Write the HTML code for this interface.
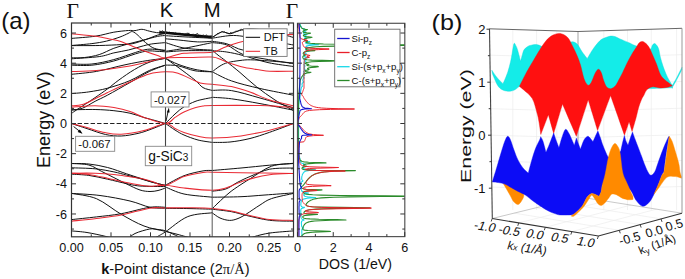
<!DOCTYPE html><html><head><meta charset="utf-8"><style>html,body{margin:0;padding:0;background:#fff;width:685px;height:279px;overflow:hidden}svg{display:block}text{font-family:"Liberation Sans",sans-serif}.sf{font-family:"Liberation Serif",serif}</style></head><body>
<svg width="685" height="279" viewBox="0 0 685 279" fill="#111">
<rect width="685" height="279" fill="#fff"/>
<clipPath id="ca"><rect x="71.5" y="23" width="222" height="213.8"/></clipPath>
<g clip-path="url(#ca)" fill="none" stroke-linejoin="round" stroke-linecap="round">
<line x1="71.5" y1="123.5" x2="293.5" y2="123.5" stroke="#222" stroke-width="1" stroke-dasharray="3.6,2.9"/>
<path d="M71.5,38.4C75.5,38.03 88.45,37.23 95.5,36.2C102.55,35.17 108.32,33.15 113.8,32.2C119.28,31.25 124.87,30.77 128.4,30.5C131.93,30.23 132.75,30.8 135,30.6C137.25,30.4 139.53,29.22 141.9,29.3C144.27,29.38 146.77,30.55 149.2,31.1C151.63,31.65 153.78,32.28 156.5,32.6C159.22,32.92 164,32.93 165.5,33" stroke="#111" stroke-width="1"/>
<path d="M71.5,45.5C74.9,45.18 86.07,44.33 91.9,43.6C97.73,42.87 101.82,42.2 106.5,41.1C111.18,40 116.42,38.27 120,37C123.58,35.73 125.92,34.4 128,33.5C130.08,32.6 130.8,31.27 132.5,31.6C134.2,31.93 136.35,33.95 138.2,35.5C140.05,37.05 141.27,38.92 143.6,40.9C145.93,42.88 149.47,45.93 152.2,47.4C154.93,48.87 157.78,49.23 160,49.7C162.22,50.17 164.58,50.12 165.5,50.2" stroke="#111" stroke-width="1"/>
<path d="M71.5,45.6C76.12,45.58 90.93,45.67 99.2,45.5C107.47,45.33 115.5,44.92 121.1,44.6C126.7,44.28 128.67,44.45 132.8,43.6C136.93,42.75 141.77,40.92 145.9,39.5C150.03,38.08 154.33,36.1 157.6,35.1C160.87,34.1 164.18,33.77 165.5,33.5" stroke="#111" stroke-width="1"/>
<path d="M71.5,57.8C73.68,57.75 79.98,58.03 84.6,57.5C89.22,56.97 94.33,56.13 99.2,54.6C104.07,53.07 108.93,50.08 113.8,48.3C118.67,46.52 123.53,45.25 128.4,43.9C133.27,42.55 138.13,41.45 143,40.2C147.87,38.95 153.85,37.18 157.6,36.4C161.35,35.62 164.18,35.65 165.5,35.5" stroke="#111" stroke-width="1"/>
<path d="M71.5,58.8C76.12,58.43 92.15,57.58 99.2,56.6C106.25,55.62 108.93,54 113.8,52.9C118.67,51.8 123.87,51.07 128.4,50C132.93,48.93 137.17,47.5 141,46.5C144.83,45.5 147.32,44.65 151.4,44C155.48,43.35 163.15,42.83 165.5,42.6" stroke="#111" stroke-width="1"/>
<path d="M71.5,64C74.9,64 84.85,64.73 91.9,64C98.95,63.27 106.5,61.53 113.8,59.6C121.1,57.67 130.1,54.12 135.7,52.4C141.3,50.68 143.85,49.77 147.4,49.3C150.95,48.83 153.98,49.35 157,49.6C160.02,49.85 164.08,50.6 165.5,50.8" stroke="#111" stroke-width="1"/>
<path d="M71.5,65.2C74.9,65.2 84.85,65.9 91.9,65.2C98.95,64.5 106.5,62.9 113.8,61C121.1,59.1 130.1,55.47 135.7,53.8C141.3,52.13 143.85,51.42 147.4,51C150.95,50.58 153.98,51.17 157,51.3C160.02,51.43 164.08,51.72 165.5,51.8" stroke="#111" stroke-width="1"/>
<path d="M71.5,74.3C75.67,73.82 87.58,72.98 96.5,71.4C105.42,69.82 116.45,66.62 125,64.8C133.55,62.98 141.05,61.58 147.8,60.5C154.55,59.42 162.55,58.67 165.5,58.3" stroke="#111" stroke-width="1"/>
<path d="M72,113C72.72,112.52 72.45,112.67 76.3,110.1C80.15,107.53 89.88,101.15 95.1,97.6C100.32,94.05 103.63,91.73 107.6,88.8C111.57,85.87 114.42,83.22 118.9,80C123.38,76.78 129.32,72.5 134.5,69.5C139.68,66.5 144.83,63.87 150,62C155.17,60.13 162.92,58.92 165.5,58.3" stroke="#111" stroke-width="1"/>
<path d="M71.5,93.6C74.38,93.32 82.78,92.8 88.8,91.9C94.82,91 100.73,90.08 107.6,88.2C114.47,86.32 123.05,83.55 130,80.6C136.95,77.65 143.38,73.08 149.3,70.5C155.22,67.92 162.8,66 165.5,65.1" stroke="#111" stroke-width="1"/>
<path d="M72,110C73.75,109.7 78.65,109.65 82.5,108.2C86.35,106.75 90.92,103.48 95.1,101.3C99.28,99.12 101.78,98.23 107.6,95.1C113.42,91.97 123.05,86.43 130,82.5C136.95,78.57 143.38,74.4 149.3,71.5C155.22,68.6 162.8,66.17 165.5,65.1" stroke="#111" stroke-width="1"/>
<path d="M71.5,109.8C75.43,109.75 88.03,109.35 95.1,109.5C102.17,109.65 108.08,110.08 113.9,110.7C119.72,111.32 124.98,112.07 130,113.2C135.02,114.33 139.83,116.28 144,117.5C148.17,118.72 151.42,119.5 155,120.5C158.58,121.5 163.75,123 165.5,123.5" stroke="#111" stroke-width="1"/>
<path d="M71.5,123.5C74.08,124.35 81.32,126.77 87,128.6C92.68,130.43 99.9,133.27 105.6,134.5C111.3,135.73 115.8,136.18 121.2,136C126.6,135.82 133.2,134.47 138,133.4C142.8,132.33 145.42,131.25 150,129.6C154.58,127.95 162.92,124.52 165.5,123.5" stroke="#111" stroke-width="1"/>
<path d="M71.5,163.5C74.38,163.58 82.78,163.33 88.8,164C94.82,164.67 101.32,165.87 107.6,167.5C113.88,169.13 121.1,172.02 126.5,173.8C131.9,175.58 135.75,176.83 140,178.2C144.25,179.57 147.75,180.78 152,182C156.25,183.22 163.25,184.92 165.5,185.5" stroke="#111" stroke-width="1"/>
<path d="M71.5,163.5C74.38,163.75 83.82,163.7 88.8,165C93.78,166.3 97.22,169.2 101.4,171.3C105.58,173.4 109.72,175.5 113.9,177.6C118.08,179.7 122.15,181.83 126.5,183.9C130.85,185.97 136.08,188.73 140,190C143.92,191.27 147,191.42 150,191.5C153,191.58 155.42,191.08 158,190.5C160.58,189.92 164.25,188.42 165.5,188" stroke="#111" stroke-width="1"/>
<path d="M71.5,167.8C75.43,167.97 88.03,168.12 95.1,168.8C102.17,169.48 108.67,170.85 113.9,171.9C119.13,172.95 122.15,173.98 126.5,175.1C130.85,176.22 135.75,177.42 140,178.6C144.25,179.78 147.75,181.05 152,182.2C156.25,183.35 163.25,184.95 165.5,185.5" stroke="#111" stroke-width="1"/>
<path d="M71.5,174.2C74.38,174.4 82.78,174.57 88.8,175.4C94.82,176.23 101.32,177.83 107.6,179.2C113.88,180.57 121.1,182.47 126.5,183.6C131.9,184.73 133.5,185.5 140,186C146.5,186.5 161.25,186.5 165.5,186.6" stroke="#111" stroke-width="1"/>
<path d="M71.5,193.4C76.25,193.75 90.25,194.23 100,195.5C109.75,196.77 121.67,199.03 130,201C138.33,202.97 144.08,206.1 150,207.3C155.92,208.5 162.92,208.05 165.5,208.2" stroke="#111" stroke-width="1"/>
<path d="M71.5,193.4C75.67,194.28 88.22,195.22 96.5,198.7C104.78,202.18 113.28,209.75 121.2,214.3C129.12,218.85 136.62,223.15 144,226C151.38,228.85 159.83,229.98 165.5,231.4C171.17,232.82 173.58,233.32 178,234.5C182.42,235.68 189.67,237.83 192,238.5" stroke="#111" stroke-width="1"/>
<path d="M71.5,219.6C75.67,219.15 88.22,217.88 96.5,216.9C104.78,215.92 112.33,215.3 121.2,213.7C130.07,212.1 142.32,208.37 149.7,207.3C157.08,206.23 162.87,207.3 165.5,207.3" stroke="#111" stroke-width="1"/>
<path d="M71.5,230.9C74.08,231.17 81.25,231.57 87,232.5C92.75,233.43 101.33,235.33 106,236.5C110.67,237.67 113.5,239 115,239.5" stroke="#111" stroke-width="1"/>
<path d="M128,239C129.17,238.08 131.38,235.17 135,233.5C138.62,231.83 145.87,229.67 149.7,229C153.53,228.33 155.37,229.18 158,229.5C160.63,229.82 162.12,229.72 165.5,230.9C168.88,232.08 175.55,235.25 178.3,236.6C181.05,237.95 181.38,238.6 182,239" stroke="#111" stroke-width="1"/>
<path d="M152,240C152.9,239.43 155.15,237.97 157.4,236.6C159.65,235.23 160.43,235.13 165.5,231.8C170.57,228.47 180.02,219.77 187.8,216.6C195.58,213.43 208.13,213.43 212.2,212.8" stroke="#111" stroke-width="1"/>
<path d="M165.5,33C168.75,33.27 177.22,33.85 185,34.6C192.78,35.35 207.67,37.02 212.2,37.5" stroke="#111" stroke-width="1"/>
<path d="M165.5,35.7C168.75,35.9 177.22,36.48 185,36.9C192.78,37.32 207.67,37.98 212.2,38.2" stroke="#111" stroke-width="1"/>
<path d="M165.5,38.8C167.72,39 173.45,39.48 178.8,40C184.15,40.52 192.03,41.68 197.6,41.9C203.17,42.12 209.77,41.4 212.2,41.3" stroke="#111" stroke-width="1"/>
<path d="M165.5,42.6C168.75,43.53 177.22,46.95 185,48.2C192.78,49.45 207.67,49.78 212.2,50.1" stroke="#111" stroke-width="1"/>
<path d="M165.5,51.3C168.75,50.78 177.22,49.65 185,48.2C192.78,46.75 207.67,43.53 212.2,42.6" stroke="#111" stroke-width="1"/>
<path d="M165.5,52C168.75,51.78 177.22,50.92 185,50.7C192.78,50.48 207.67,50.7 212.2,50.7" stroke="#111" stroke-width="1"/>
<path d="M165.5,58.3C167.58,59.3 173.08,62.45 178,64.3C182.92,66.15 189.3,68.15 195,69.4C200.7,70.65 209.33,71.4 212.2,71.8" stroke="#111" stroke-width="1"/>
<path d="M165.5,65.1C167.58,65.22 173.08,64.85 178,65.8C182.92,66.75 189.3,69.8 195,70.8C200.7,71.8 209.33,71.63 212.2,71.8" stroke="#111" stroke-width="1"/>
<path d="M165.5,58.3C167.58,59.78 173.08,63.57 178,67.2C182.92,70.83 190.83,76.7 195,80.1C199.17,83.5 200.13,85.88 203,87.6C205.87,89.32 210.67,89.93 212.2,90.4" stroke="#111" stroke-width="1"/>
<path d="M165.5,123.5C167.08,121.92 171.92,116.78 175,114C178.08,111.22 180.67,108.88 184,106.8C187.33,104.72 191.83,102.75 195,101.5C198.17,100.25 200.13,99.97 203,99.3C205.87,98.63 210.67,97.8 212.2,97.5" stroke="#111" stroke-width="1"/>
<path d="M165.5,123.5C167.08,124.58 171.92,128.08 175,130C178.08,131.92 180.17,133.33 184,135C187.83,136.67 193.3,138.77 198,140C202.7,141.23 209.83,142 212.2,142.4" stroke="#111" stroke-width="1"/>
<path d="M165.5,185.2C168.58,183.62 177.75,178.08 184,175.7C190.25,173.32 198.3,171.77 203,170.9C207.7,170.03 210.67,170.57 212.2,170.5" stroke="#111" stroke-width="1"/>
<path d="M165.5,187C168.58,188.17 176.22,192.3 184,194C191.78,195.7 207.5,196.67 212.2,197.2" stroke="#111" stroke-width="1"/>
<path d="M165.5,208.3C169.58,208.35 182.22,208.45 190,208.6C197.78,208.75 208.5,209.1 212.2,209.2" stroke="#111" stroke-width="1"/>
<path d="M212.2,37.5C213.8,36.57 218.83,32.52 221.8,31.9C224.77,31.28 227.07,34.02 230,33.8C232.93,33.58 236.07,31.4 239.4,30.6C242.73,29.8 244.9,28.93 250,29C255.1,29.07 262.75,29.58 270,31C277.25,32.42 289.58,36.42 293.5,37.5" stroke="#111" stroke-width="1"/>
<path d="M212.2,38.2C215.17,37.77 224.87,35.92 230,35.6C235.13,35.28 237.17,35.57 243,36.3C248.83,37.03 256.58,38.55 265,40C273.42,41.45 288.75,44.17 293.5,45" stroke="#111" stroke-width="1"/>
<path d="M212.2,41.3C214.63,41.72 221.65,42.33 226.8,43.8C231.95,45.27 236.73,49.07 243.1,50.1C249.47,51.13 256.6,50.32 265,50C273.4,49.68 288.75,48.5 293.5,48.2" stroke="#111" stroke-width="1"/>
<path d="M212.2,42.6C214.63,43 221.65,43.02 226.8,45C231.95,46.98 236.73,52.17 243.1,54.5C249.47,56.83 256.6,57.47 265,59C273.4,60.53 288.75,62.92 293.5,63.7" stroke="#111" stroke-width="1"/>
<path d="M212.2,50.7C214.63,50.92 221.65,51.2 226.8,52C231.95,52.8 236.23,53.73 243.1,55.5C249.97,57.27 259.6,60.77 268,62.6C276.4,64.43 289.25,65.85 293.5,66.5" stroke="#111" stroke-width="1"/>
<path d="M212.2,71.8C213.5,70.83 217.42,67.53 220,66C222.58,64.47 224.37,63.52 227.7,62.6C231.03,61.68 236.2,60.97 240,60.5C243.8,60.03 245.5,59.72 250.5,59.8C255.5,59.88 262.83,60.47 270,61C277.17,61.53 289.58,62.67 293.5,63" stroke="#111" stroke-width="1"/>
<path d="M212.2,71.8C215.42,73.32 223.53,78.12 231.5,80.9C239.47,83.68 249.67,86.12 260,88.5C270.33,90.88 287.92,94.08 293.5,95.2" stroke="#111" stroke-width="1"/>
<path d="M212.2,50.1C213.17,50.93 215.73,53.28 218,55.1C220.27,56.92 222.13,58.1 225.8,61C229.47,63.9 234.92,68.23 240,72.5C245.08,76.77 250.47,82.02 256.3,86.6C262.13,91.18 268.8,96 275,100C281.2,104 290.42,108.83 293.5,110.6" stroke="#111" stroke-width="1"/>
<path d="M212.2,90.4C215.42,90.43 223.53,89.33 231.5,90.6C239.47,91.87 249.67,95.13 260,98C270.33,100.87 287.92,106.17 293.5,107.8" stroke="#111" stroke-width="1"/>
<path d="M212.2,97.3C215.42,97.55 223.53,97.75 231.5,98.8C239.47,99.85 249.67,101.7 260,103.6C270.33,105.5 287.92,109.1 293.5,110.2" stroke="#111" stroke-width="1"/>
<path d="M212.2,142.4C215.17,142.33 223.7,142.65 230,142C236.3,141.35 243.4,140.12 250,138.5C256.6,136.88 262.35,134.8 269.6,132.3C276.85,129.8 289.52,124.97 293.5,123.5" stroke="#111" stroke-width="1"/>
<path d="M212.2,170.5C217,170.08 231.43,168.88 241,168C250.57,167.12 260.85,165.98 269.6,165.2C278.35,164.42 289.52,163.62 293.5,163.3" stroke="#111" stroke-width="1"/>
<path d="M212.2,208.8C213.17,207.83 215.2,205.63 218,203C220.8,200.37 225.8,195.67 229,193C232.2,190.33 233.62,189.42 237.2,187C240.78,184.58 244.78,181.97 250.5,178.5C256.22,175.03 264.33,168.7 271.5,166.2C278.67,163.7 289.83,163.95 293.5,163.5" stroke="#111" stroke-width="1"/>
<path d="M212.2,191.2C214.47,190.83 221.63,190.45 225.8,189C229.97,187.55 233.17,184.58 237.2,182.5C241.23,180.42 244.6,178.72 250,176.5C255.4,174.28 262.35,170.62 269.6,169.2C276.85,167.78 289.52,168.2 293.5,168" stroke="#111" stroke-width="1"/>
<path d="M212.2,197.2C217,197.12 232.2,197.07 241,196.7C249.8,196.33 256.25,195.63 265,195C273.75,194.37 288.75,193.25 293.5,192.9" stroke="#111" stroke-width="1"/>
<path d="M212.2,209.2C215.42,209.62 225.75,210.65 231.5,211.7C237.25,212.75 240.35,214.07 246.7,215.5C253.05,216.93 261.8,219.35 269.6,220.3C277.4,221.25 289.52,221.05 293.5,221.2" stroke="#111" stroke-width="1"/>
<path d="M212.2,212.8C213.5,213.67 217.1,216.73 220,218C222.9,219.27 226.6,220.32 229.6,220.4C232.6,220.48 235.15,219.6 238,218.5C240.85,217.4 243.03,216.05 246.7,213.8C250.37,211.55 255.87,207.53 260,205C264.13,202.47 265.92,200.53 271.5,198.6C277.08,196.67 289.83,194.27 293.5,193.4" stroke="#111" stroke-width="1"/>
<path d="M250,239C250.73,238.6 251.07,237.6 254.4,236.6C257.73,235.6 263.48,233.95 270,233C276.52,232.05 289.58,231.25 293.5,230.9" stroke="#111" stroke-width="1"/>
<path d="M71.5,33.7C75.63,34.12 89.73,35.28 96.3,36.2C102.87,37.12 106.95,38.35 110.9,39.2C114.85,40.05 117.08,40.4 120,41.3C122.92,42.2 124.57,43.07 128.4,44.6C132.23,46.13 138.13,48.67 143,50.5C147.87,52.33 153.85,54.37 157.6,55.6C161.35,56.83 161.1,58.28 165.5,57.9C169.9,57.52 176.22,54.25 184,53.3C191.78,52.35 205.87,53 212.2,52.2C218.53,51.4 218.78,49.75 222,48.5C225.22,47.25 227.7,45.97 231.5,44.7C235.3,43.43 238.38,42.35 244.8,40.9C251.22,39.45 261.88,37.08 270,36C278.12,34.92 289.58,34.67 293.5,34.4" stroke="#e8202a" stroke-width="1.05" opacity="0.95"/>
<path d="M71.5,71.6C75.67,71.42 87.58,71.32 96.5,70.5C105.42,69.68 116.45,68.13 125,66.7C133.55,65.27 141.05,63.37 147.8,61.9C154.55,60.43 158.47,58.63 165.5,57.9C172.53,57.17 182.22,57.63 190,57.5C197.78,57.37 206.87,56.68 212.2,57.1C217.53,57.52 218.78,58.9 222,60C225.22,61.1 227.7,62.45 231.5,63.7C235.3,64.95 240.05,66.45 244.8,67.5C249.55,68.55 255.87,69.37 260,70C264.13,70.63 264.02,71.08 269.6,71.3C275.18,71.52 289.52,71.3 293.5,71.3" stroke="#e8202a" stroke-width="1.05" opacity="0.95"/>
<path d="M71.5,105.8C73.33,105.58 78.57,105.67 82.5,104.5C86.43,103.33 90.92,100.8 95.1,98.8C99.28,96.8 101.78,95.32 107.6,92.5C113.42,89.68 123.05,85 130,81.9C136.95,78.8 143.38,75.58 149.3,73.9C155.22,72.22 160.72,71.92 165.5,71.8C170.28,71.68 173.08,71.7 178,73.2C182.92,74.7 190.83,79.07 195,80.8C199.17,82.53 200.13,83.02 203,83.6C205.87,84.18 207.45,83.8 212.2,84.3C216.95,84.8 225.1,85.27 231.5,86.6C237.9,87.93 244.25,90.08 250.6,92.3C256.95,94.52 262.45,97.65 269.6,99.9C276.75,102.15 289.52,104.82 293.5,105.8" stroke="#e8202a" stroke-width="1.05" opacity="0.95"/>
<path d="M71.5,107.2C75.43,106.95 88.03,105.63 95.1,105.7C102.17,105.77 108.08,106.65 113.9,107.6C119.72,108.55 124.98,109.77 130,111.4C135.02,113.03 138.08,115.38 144,117.4C149.92,119.42 160.33,123.5 165.5,123.5C170.67,123.5 171.92,119.32 175,117.4C178.08,115.48 180.67,113.6 184,112C187.33,110.4 191.83,108.8 195,107.8C198.17,106.8 200.13,106.4 203,106C205.87,105.6 202.7,105.48 212.2,105.4C221.7,105.32 248.87,105.33 260,105.5C271.13,105.67 273.42,106.08 279,106.4C284.58,106.72 291.08,107.23 293.5,107.4" stroke="#e8202a" stroke-width="1.05" opacity="0.95"/>
<path d="M71.5,123.5C74.08,124.18 81.42,126.08 87,127.6C92.58,129.12 99.3,131.5 105,132.6C110.7,133.7 114.7,134.53 121.2,134.2C127.7,133.87 136.62,132.38 144,130.6C151.38,128.82 160.33,123.85 165.5,123.5C170.67,123.15 171.92,127 175,128.5C178.08,130 180.17,131.2 184,132.5C187.83,133.8 193.3,135.4 198,136.3C202.7,137.2 205.03,137.97 212.2,137.9C219.37,137.83 231.43,137.18 241,135.9C250.57,134.62 260.85,132.27 269.6,130.2C278.35,128.13 289.52,124.62 293.5,123.5" stroke="#e8202a" stroke-width="1.05" opacity="0.95"/>
<path d="M71.5,173.2C75.43,173.2 88.03,173 95.1,173.2C102.17,173.4 108.67,173.88 113.9,174.4C119.13,174.92 122.15,175.67 126.5,176.3C130.85,176.93 135.75,177.33 140,178.2C144.25,179.07 147.75,180.32 152,181.5C156.25,182.68 160.17,186.12 165.5,185.3C170.83,184.48 177.75,178.75 184,176.6C190.25,174.45 198.3,173.13 203,172.4C207.7,171.67 205.87,172.13 212.2,172.2C218.53,172.27 227.45,172.6 241,172.8C254.55,173 284.75,173.3 293.5,173.4" stroke="#e8202a" stroke-width="1.05" opacity="0.95"/>
<path d="M71.5,173.2C74.38,173.4 82.78,173.57 88.8,174.4C94.82,175.23 101.32,176.83 107.6,178.2C113.88,179.57 121.1,181.45 126.5,182.6C131.9,183.75 135.75,184.48 140,185.1C144.25,185.72 147.75,186.27 152,186.3C156.25,186.33 160.17,185.02 165.5,185.3C170.83,185.58 176.22,187.17 184,188C191.78,188.83 205.23,190.3 212.2,190.3C219.17,190.3 220.37,189.65 225.8,188C231.23,186.35 237.5,182.62 244.8,180.4C252.1,178.18 261.48,175.87 269.6,174.7C277.72,173.53 289.52,173.62 293.5,173.4" stroke="#e8202a" stroke-width="1.05" opacity="0.95"/>
<path d="M71.5,221.2C75.67,220.73 88.22,219.43 96.5,218.4C104.78,217.37 112.33,216.7 121.2,215C130.07,213.3 142.32,209.38 149.7,208.2C157.08,207.02 158.78,207.97 165.5,207.9C172.22,207.83 182.22,207.72 190,207.8C197.78,207.88 205.28,207.88 212.2,208.4C219.12,208.92 225.75,209.85 231.5,210.9C237.25,211.95 240.35,213.27 246.7,214.7C253.05,216.13 261.8,218.55 269.6,219.5C277.4,220.45 289.52,220.25 293.5,220.4" stroke="#e8202a" stroke-width="1.05" opacity="0.95"/>
<path d="M160,32.5 L165.5,32.7 L185,34.7 L212,37.3" stroke="#111" stroke-width="2.4"/>
<path d="M160,30.7 160.8,31.8 161.6,32.1 162.4,30.5 163.2,31.4 164,32.1 164.8,32.2 165.6,32.4 166.4,32.1 167.2,32.3 168,32.7 168.8,32.5 169.6,32.2 170.4,32.7 171.2,32.6 172,32.6 172.8,32.7 173.6,32.7 174.4,33.2 175.2,32.5 176,33.2 176.8,33.3 177.6,33.4 178.4,33.3 179.2,33.2 180,33.3 180.8,33.3 181.6,33.8 182.4,33.5 183.2,33.8 184,34 184.8,33.9 185.6,33.6 186.4,33.8 187.2,32.8 188,34.4 188.8,32.9 189.6,34.6 190.4,34.7 191.2,34.6 192,34.3 192.8,34.4 193.6,34.3 194.4,35 195.2,34 196,35.1 196.8,33.5 197.6,33.5 198.4,35.2 199.2,35.2 200,35.2 200.8,35.3 201.6,35.4 202.4,35.4 203.2,34.8 204,35.6 204.8,36 205.6,35.7 206.4,34.7 207.2,36.1 208,36 208.8,36.1 209.6,36 210.4,35.8 211.2,36 212,35.4 212.8,36.5" stroke="#000" stroke-width="0.7"/>
<path d="M212.2,37.4 212.9,36.8 213.7,36.5 214.4,36.2 215.2,35.5 215.9,35.3 216.6,34.8 217.4,33.5 218.1,34 218.8,33.5 219.6,33 220.3,32.7 221.1,32.1 221.8,31.7 222.5,31.5 223.3,32.2 224,32.1 224.8,31.8 225.5,32.5 226.3,32.8 227,32.3 227.8,33.2 228.5,33.3 229.3,33.5 230,33.7 230.8,32.1 231.6,32.9 232.3,32.6 233.1,32.6 233.9,32.1 234.7,32 235.5,31.1 236.3,31.1 237.1,31.3 237.8,31.1 238.6,30.6 239.4,30.2 240.2,30.2 240.9,29.1 241.7,29.4 242.5,29.9 243.2,29.6" stroke="#000" stroke-width="0.7"/>
</g>
<line x1="165.5" y1="23" x2="165.5" y2="236.8" stroke="#444" stroke-width="1.1"/>
<line x1="212.2" y1="23" x2="212.2" y2="236.8" stroke="#666" stroke-width="1.1"/>
<rect x="71.5" y="23" width="222" height="213.8" fill="none" stroke="#333" stroke-width="1.2"/>
<path d="M71.5,236.8v-4.5M71.5,23v4.5M91.25,236.8v-2.5M91.25,23v2.5M111,236.8v-4.5M111,23v4.5M130.75,236.8v-2.5M130.75,23v2.5M150.5,236.8v-4.5M150.5,23v4.5M170.25,236.8v-2.5M170.25,23v2.5M190,236.8v-4.5M190,23v4.5M209.75,236.8v-2.5M209.75,23v2.5M229.5,236.8v-4.5M229.5,23v4.5M249.25,236.8v-2.5M249.25,23v2.5M269,236.8v-4.5M269,23v4.5M288.75,236.8v-2.5M288.75,23v2.5M71.5,229.06h2.5M293.5,229.06h-2.5M71.5,213.98h4.5M293.5,213.98h-4.5M71.5,198.9h2.5M293.5,198.9h-2.5M71.5,183.82h4.5M293.5,183.82h-4.5M71.5,168.74h2.5M293.5,168.74h-2.5M71.5,153.66h4.5M293.5,153.66h-4.5M71.5,138.58h2.5M293.5,138.58h-2.5M71.5,123.5h4.5M293.5,123.5h-4.5M71.5,108.42h2.5M293.5,108.42h-2.5M71.5,93.34h4.5M293.5,93.34h-4.5M71.5,78.26h2.5M293.5,78.26h-2.5M71.5,63.18h4.5M293.5,63.18h-4.5M71.5,48.1h2.5M293.5,48.1h-2.5M71.5,33.02h4.5M293.5,33.02h-4.5" stroke="#333" stroke-width="1" fill="none"/>
<text x="67" y="37.62" text-anchor="end" font-size="12.6">6</text>
<text x="67" y="67.78" text-anchor="end" font-size="12.6">4</text>
<text x="67" y="97.94" text-anchor="end" font-size="12.6">2</text>
<text x="67" y="128.1" text-anchor="end" font-size="12.6">0</text>
<text x="67" y="158.26" text-anchor="end" font-size="12.6">-2</text>
<text x="67" y="188.42" text-anchor="end" font-size="12.6">-4</text>
<text x="67" y="218.58" text-anchor="end" font-size="12.6">-6</text>
<text x="71.5" y="252.2" text-anchor="middle" font-size="12.6">0.00</text>
<text x="111" y="252.2" text-anchor="middle" font-size="12.6">0.05</text>
<text x="150.5" y="252.2" text-anchor="middle" font-size="12.6">0.10</text>
<text x="190" y="252.2" text-anchor="middle" font-size="12.6">0.15</text>
<text x="229.5" y="252.2" text-anchor="middle" font-size="12.6">0.20</text>
<text x="269" y="252.2" text-anchor="middle" font-size="12.6">0.25</text>
<text x="72.6" y="17.7" text-anchor="middle" class="sf" font-size="21.5">&#915;</text>
<text x="166.5" y="17.4" text-anchor="middle" font-size="20.3">K</text>
<text x="212.1" y="17.4" text-anchor="middle" font-size="20.3">M</text>
<text x="291.9" y="18.2" text-anchor="middle" class="sf" font-size="21.5">&#915;</text>
<text x="175.4" y="273.5" text-anchor="middle" font-size="14.6"><tspan font-weight="bold">k</tspan>-Point distance (2<tspan class="sf">&#960;/&#197;</tspan>)</text>
<text transform="translate(49.9,119.8) rotate(-90)" text-anchor="middle" font-size="18.1">Energy (eV)</text>
<text x="1.2" y="28.9" font-size="24">(a)</text>
<rect x="151.1" y="91.9" width="37.9" height="15.1" fill="#fff" stroke="#888" stroke-width="0.9"/>
<text x="170.1" y="103.6" text-anchor="middle" font-size="11.4">-0.027</text>
<path d="M166,121 L168.3,110.5" stroke="#000" stroke-width="0.9"/><path d="M168.9,107.6 L166.9,112.4 L169.6,112.6Z" fill="#000"/>
<rect x="75.6" y="136.3" width="39.1" height="15" fill="#fff" stroke="#888" stroke-width="0.9"/>
<text x="94.5" y="147.7" text-anchor="middle" font-size="11.4">-0.067</text>
<path d="M73.6,126.5 L79.5,131.2" stroke="#000" stroke-width="0.9"/><path d="M82.6,133.7 L77.6,131.9 L79.8,129.5Z" fill="#000"/>
<rect x="145.3" y="146.3" width="46.4" height="19.4" fill="#fff" stroke="#888" stroke-width="0.9"/>
<text x="148.3" y="160.7" font-size="13.8">g-SiC<tspan font-size="10">3</tspan></text>
<rect x="243.5" y="28.8" width="43.6" height="27.6" fill="#fff" stroke="#777" stroke-width="0.9"/>
<line x1="245.7" y1="37.3" x2="260.1" y2="37.3" stroke="#000" stroke-width="1"/>
<line x1="245.7" y1="51.3" x2="260.1" y2="51.3" stroke="#e8202a" stroke-width="1"/>
<text x="263.7" y="41.1" font-size="11">DFT</text>
<text x="263.7" y="55.1" font-size="11">TB</text>
<clipPath id="cd"><rect x="297.5" y="23.3" width="107.3" height="213.3"/></clipPath>
<g clip-path="url(#cd)" fill="none" stroke-linejoin="round">
<path d="M299.6,23.3 299.7,23.7 299.9,24 300,24.4 300.2,24.7 300.4,25.1 300.5,25.4 300.7,25.8 300.9,26.1 301.1,26.5 301.3,26.8 301.5,27.2 301.7,27.5 302,27.9 302.4,28.2 303.2,28.6 304.2,28.9 304.1,29.3 303.6,29.6 303.6,30 303.9,30.3 304.9,30.7 305.8,31 304.9,31.4 303.9,31.7 303.5,32.1 303.4,32.4 303.4,32.8 303.5,33.1 303.8,33.5 304.4,33.8 305.8,34.2 307.1,34.5 306.2,34.9 305,35.2 304.6,35.6 304.7,35.9 305.3,36.3 305.7,36.6 305,37 304.9,37.3 305.7,37.7 306.6,38 305.6,38.4 304.6,38.7 304.2,39.1 304.1,39.4 304.1,39.8 304.3,40.1 304.7,40.5 305.7,40.8 307.7,41.2 309.8,41.5 308.7,41.9 307,42.2 306,42.6 305.7,42.9 305.9,43.3 306.7,43.6 308.9,44 314.4,44.3 318.9,44.7 314.4,45 309.9,45.4 307.5,45.7 306.4,46.1 305.9,46.4 306.1,46.8 307,47.1 308.4,47.5 307.5,47.8 306.2,48.2 305.5,48.5 305.5,48.9 306,49.2 306.5,49.6 306,49.9 306,50.3 307.2,50.6 308.9,51 307.9,51.3 306.2,51.7 305.2,52 304.7,52.4 304.6,52.7 304.8,53.1 305.3,53.4 306.3,53.8 306.6,54.1 305.5,54.5 304.7,54.8 304.2,55.2 304.1,55.5 304,55.9 304.1,56.2 304.4,56.6 305.1,56.9 306.6,57.3 307.3,57.6 306,58 304.8,58.3 304.3,58.7 304,59 303.9,59.4 304,59.7 304.3,60.1 304.8,60.4 305.9,60.8 306.2,61.1 305.2,61.5 304.4,61.8 304.1,62.2 304,62.5 304.2,62.9 304.8,63.2 305.3,63.6 304.5,63.9 304,64.3 303.8,64.6 303.8,65 304.1,65.3 304.7,65.7 305.2,66 304.7,66.4 304.1,66.7 303.9,67.1 304,67.4 304.5,67.8 304.8,68.1 304.2,68.5 303.9,68.8 304,69.2 304.6,69.5 305.4,69.9 305.3,70.2 304.4,70.6 303.8,70.9 303.6,71.3 303.6,71.6 303.8,72 304.3,72.3 304.4,72.7 303.8,73 303.5,73.4 303.4,73.7 303.5,74 303.9,74.4 304.6,74.7 304.8,75.1 304.1,75.4 303.6,75.8 303.3,76.1 303.2,76.5 303.2,76.8 303.3,77.2 303.7,77.5 304.2,77.9 304,78.2 303.4,78.6 303.1,78.9 302.9,79.3 302.9,79.6 302.8,80 302.8,80.3 302.8,80.7 302.9,81 303.1,81.4 303.6,81.7 303.7,82.1 303.2,82.4 302.7,82.8 302.4,83.1 302.2,83.5 302.1,83.8 302.1,84.2 302,84.5 302,84.9 302.1,85.2 302.3,85.6 302.6,85.9 302.3,86.3 301.9,86.6 301.7,87 301.5,87.3 301.4,87.7 301.3,88 301.2,88.4 301.1,88.7 301.1,89.1 301,89.4 300.9,89.8 300.9,90.1 300.8,90.5 300.7,90.8 300.7,91.2 300.6,91.5 300.6,91.9 300.5,92.2 300.5,92.6 300.4,92.9 300.4,93.3 300.3,93.6 300.3,94 300.2,94.3 300.2,94.7 300.1,95 300.1,95.4 300,95.7 300,96.1 299.9,96.4 299.9,96.8 299.8,97.1 299.8,97.5 299.7,97.8 299.7,98.2 299.6,98.5 299.6,98.9 299.5,99.2 299.5,99.6 299.4,99.9 299.4,100.3 299.3,100.6 299.3,101 299.2,101.3 299.2,101.7 299.1,102 299.1,102.4 299,102.7 299,103.1 298.9,103.4 298.9,103.8 298.8,104.1 298.8,104.5 298.7,104.8 298.7,105.2 298.7,105.5 298.7,105.9 298.7,106.2 298.7,106.6 298.7,106.9 298.7,107.3 298.7,107.6 298.7,108 298.7,108.3 298.7,108.7 298.7,109 298.7,109.4 298.7,109.7 298.7,110.1 298.7,110.4 298.7,110.8 298.7,111.1 298.7,111.5 298.7,111.8 298.7,112.2 298.7,112.5 298.7,112.9 298.7,113.2 298.7,113.6 298.7,113.9 298.7,114.3 298.7,114.6 298.7,115 298.7,115.3 298.7,115.7 298.7,116 298.7,116.4 298.7,116.7 298.7,117.1 298.7,117.4 298.7,117.8 298.7,118.1 298.6,118.5 298.6,118.8 298.6,119.2 298.6,119.5 298.6,119.9 298.6,120.2 298.6,120.6 298.6,120.9 298.6,121.3 298.6,121.6 298.6,122 298.6,122.3 298.6,122.7 298.6,123 298.6,123.4 298.6,123.7 298.6,124.1 298.6,124.4 298.6,124.8 298.6,125.1 298.6,125.5 298.6,125.8 298.6,126.2 298.6,126.5 298.6,126.9 298.6,127.2 298.6,127.6 298.6,127.9 298.6,128.3 298.6,128.6 298.6,129 298.6,129.3 298.6,129.7 298.6,130 298.6,130.4 298.6,130.7 298.6,131.1 298.6,131.4 298.6,131.8 298.6,132.1 298.6,132.5 298.6,132.8 298.6,133.2 298.6,133.5 298.6,133.9 298.6,134.2 298.6,134.6 298.6,134.9 298.6,135.3 298.6,135.6 298.6,136 298.6,136.3 298.6,136.7 298.6,137 298.6,137.4 298.6,137.7 298.6,138.1 298.6,138.4 298.6,138.8 298.6,139.1 298.6,139.5 298.6,139.8 298.6,140.2 298.6,140.5 298.6,140.9 298.5,141.2 298.5,141.6 298.5,141.9 298.5,142.3 298.5,142.6 298.5,143 298.5,143.3 298.5,143.7 298.5,144 298.5,144.4 298.5,144.7 298.5,145.1 298.5,145.4 298.5,145.8 298.5,146.1 298.5,146.5 298.5,146.8 298.5,147.2 298.5,147.5 298.5,147.9 298.5,148.2 298.5,148.6 298.5,148.9 298.5,149.3 298.5,149.6 298.5,150 298.6,150.3 298.6,150.7 298.7,151 298.7,151.4 298.8,151.7 298.8,152.1 298.9,152.4 298.9,152.8 299,153.1 299,153.5 299.1,153.8 299.2,154.2 299.2,154.5 299.3,154.9 299.3,155.2 299.4,155.6 299.4,155.9 299.5,156.3 299.5,156.6 299.6,157 299.6,157.3 299.7,157.7 299.8,158 299.8,158.4 299.9,158.7 299.9,159.1 300,159.4 300,159.8 300.1,160.1 300.2,160.5 300.3,160.8 300.4,161.2 300.5,161.5 300.6,161.9 300.8,162.2 301,162.6 301.4,162.9 302.2,163.3 303.5,163.6 303.4,164 305.6,164.3 304.6,164.7 304,165 303.7,165.4 303.4,165.7 303.3,166.1 303.2,166.4 303.1,166.8 303.1,167.1 303.1,167.5 303.1,167.8 303.2,168.2 303.5,168.5 304.1,168.9 305.9,169.2 310.1,169.6 315.4,169.9 311.1,170.3 308,170.6 306.3,171 305.3,171.3 304.6,171.7 304.1,172 303.8,172.4 303.5,172.7 303.2,173.1 303,173.4 302.8,173.8 302.6,174.1 302.4,174.5 302.3,174.8 302.2,175.2 302.1,175.5 302,175.9 301.9,176.2 301.9,176.6 301.8,176.9 301.8,177.3 301.7,177.6 301.7,178 301.7,178.3 301.7,178.7 301.7,179 301.8,179.4 302,179.7 302.2,180.1 302.6,180.4 302.9,180.8 302.8,181.1 302.4,181.5 301.7,181.8 301.4,182.2 301.1,182.5 301,182.9 300.9,183.2 300.8,183.6 300.8,183.9 300.7,184.3 300.7,184.6 300.7,185 300.7,185.3 300.7,185.7 300.8,186 300.8,186.4 300.9,186.7 300.9,187.1 301,187.4 301,187.8 301.1,188.1 301.1,188.5 301.2,188.8 301.3,189.2 301.3,189.5 301.4,189.9 301.5,190.2 301.6,190.6 301.8,190.9 302,191.3 302.4,191.6 303.3,192 304.5,192.3 306.8,192.7 308.5,193 306.8,193.4 305.1,193.7 304.2,194.1 303.9,194.4 303.8,194.8 303.8,195.1 304,195.5 304.3,195.8 304.8,196.2 305.7,196.5 307.4,196.9 311.2,197.2 315.7,197.6 309.5,197.9 307.3,198.3 305.4,198.6 304,199 303,199.3 302.4,199.7 302,200 301.7,200.4 301.5,200.7 301.3,201.1 301.2,201.4 301.1,201.8 301,202.1 301,202.5 300.9,202.8 300.9,203.2 300.9,203.5 300.9,203.9 300.8,204.2 300.8,204.6 300.9,204.9 300.9,205.3 301,205.6 301.1,206 301.3,206.3 301.8,206.7 302.8,207 304.5,207.4 304,207.7 302.6,208.1 301.8,208.4 301.3,208.8 301.1,209.1 300.9,209.5 300.8,209.8 300.8,210.2 300.8,210.5 300.8,210.9 300.8,211.2 300.8,211.6 300.8,211.9 300.8,212.3 300.8,212.6 300.8,213 300.8,213.3 300.8,213.7 300.8,214 300.9,214.4 300.9,214.7 300.9,215.1 300.9,215.4 301,215.8 301,216.1 301,216.5 301,216.8 301.1,217.2 301.1,217.5 301.2,217.9 301.3,218.2 301.5,218.6 301.8,218.9 302.3,219.3 303.3,219.6 304.1,220 303.4,220.3 302.4,220.7 301.9,221 301.7,221.4 301.5,221.7 301.5,222.1 301.4,222.4 301.4,222.8 301.4,223.1 301.4,223.5 301.4,223.8 301.4,224.2 301.5,224.5 301.5,224.9 301.5,225.2 301.6,225.6 301.6,225.9 301.7,226.3 301.8,226.6 302,227 302.4,227.3 303.1,227.7 303.5,228 303,228.4 302.4,228.7 302.1,229.1 301.9,229.4 301.8,229.8 301.8,230.1 301.8,230.5 301.8,230.8 301.8,231.2 301.8,231.5 301.8,231.9 301.8,232.2 301.8,232.6 301.8,232.9 301.9,233.3 301.9,233.6 301.9,234 301.9,234.3 301.9,234.7 301.9,235 302,235.4 302,235.7 302,236.1 302,236.4" stroke="#18d8e8" stroke-width="1.1"/>
<path d="M299.2,23.3 299.3,23.7 299.5,24 299.6,24.4 299.8,24.7 300,25.1 300.1,25.4 300.3,25.8 300.5,26.1 300.7,26.5 300.9,26.8 301.1,27.2 301.3,27.5 301.6,27.9 301.9,28.2 302.4,28.6 303.3,28.9 305.4,29.3 307.4,29.6 306.5,30 304.9,30.3 303.8,30.7 303.2,31 303,31.4 303,31.7 303.4,32.1 304.4,32.4 306.8,32.8 310.4,33.1 310,33.5 307.6,33.8 305.6,34.2 304.4,34.5 303.7,34.9 303.4,35.2 303.4,35.6 303.7,35.9 304.4,36.3 306.3,36.6 310.2,37 312,37.3 310.2,37.7 307.8,38 306.1,38.4 305.1,38.7 304.5,39.1 304.3,39.4 304.3,39.8 304.7,40.1 305.6,40.5 307.2,40.8 307.5,41.2 306.5,41.5 305.9,41.9 306,42.2 306.8,42.6 308.2,42.9 310.6,43.3 314.9,43.6 323.5,44 342.7,44.3 388.9,44.7 441.7,45 406.2,45.4 361,45.7 336.2,46.1 323.5,46.4 316.5,46.8 312.4,47.1 309.8,47.5 308.1,47.8 307,48.2 306.3,48.5 305.9,48.9 305.9,49.2 306.6,49.6 308.6,49.9 313,50.3 314.9,50.6 310.7,51 307.2,51.3 305.4,51.7 304.4,52 303.8,52.4 303.5,52.7 303.3,53.1 303.2,53.4 303.3,53.8 303.5,54.1 304.2,54.5 305.2,54.8 305.3,55.2 304.2,55.5 303.4,55.9 303.1,56.2 302.9,56.6 302.8,56.9 302.8,57.3 302.9,57.6 303,58 303.2,58.3 303.6,58.7 304.2,59 305.2,59.4 307.2,59.7 311.6,60.1 322.2,60.4 337.7,60.8 331,61.1 318.8,61.5 311.8,61.8 308.4,62.2 306.6,62.5 305.6,62.9 305.3,63.2 305.5,63.6 306.3,63.9 308.1,64.3 308.8,64.6 307.5,65 306.9,65.3 307.8,65.7 311.3,66 317.8,66.4 318.4,66.7 315.3,67.1 311.9,67.4 309.5,67.8 308.1,68.1 307.5,68.5 307.8,68.8 308.6,69.2 309,69.5 308,69.9 306.5,70.2 305.5,70.6 305.1,70.9 305.2,71.3 306.1,71.6 308.5,72 311,72.3 309.6,72.7 307.3,73 305.6,73.4 304.6,73.7 304,74 303.6,74.4 303.3,74.7 303,75.1 302.7,75.4 302.5,75.8 302.3,76.1 302,76.5 301.8,76.8 301.7,77.2 301.5,77.5 301.3,77.9 301.1,78.2 301,78.6 300.8,78.9 300.6,79.3 300.5,79.6 300.3,80 300.3,80.3 300.2,80.7 300.2,81 300.1,81.4 300.1,81.7 300,82.1 300,82.4 300,82.8 299.9,83.1 299.9,83.5 299.9,83.8 299.8,84.2 299.8,84.5 299.7,84.9 299.7,85.2 299.7,85.6 299.6,85.9 299.6,86.3 299.6,86.6 299.5,87 299.5,87.3 299.5,87.7 299.4,88 299.4,88.4 299.4,88.7 299.3,89.1 299.3,89.4 299.3,89.8 299.2,90.1 299.2,90.5 299.2,90.8 299.1,91.2 299.1,91.5 299.1,91.9 299,92.2 299,92.6 299,92.9 298.9,93.3 298.9,93.6 298.9,94 298.8,94.3 298.8,94.7 298.8,95 298.8,95.4 298.8,95.7 298.8,96.1 298.7,96.4 298.7,96.8 298.7,97.1 298.7,97.5 298.7,97.8 298.7,98.2 298.7,98.5 298.7,98.9 298.7,99.2 298.7,99.6 298.6,99.9 298.6,100.3 298.6,100.6 298.6,101 298.6,101.3 298.6,101.7 298.6,102 298.6,102.4 298.6,102.7 298.6,103.1 298.6,103.4 298.5,103.8 298.5,104.1 298.5,104.5 298.5,104.8 298.5,105.2 298.5,105.5 298.5,105.9 298.5,106.2 298.5,106.6 298.5,106.9 298.5,107.3 298.4,107.6 298.4,108 298.4,108.3 298.4,108.7 298.4,109 298.4,109.4 298.4,109.7 298.4,110.1 298.4,110.4 298.4,110.8 298.4,111.1 298.3,111.5 298.3,111.8 298.3,112.2 298.3,112.5 298.3,112.9 298.3,113.2 298.3,113.6 298.3,113.9 298.3,114.3 298.3,114.6 298.3,115 298.3,115.3 298.2,115.7 298.2,116 298.2,116.4 298.2,116.7 298.2,117.1 298.2,117.4 298.2,117.8 298.2,118.1 298.2,118.5 298.2,118.8 298.2,119.2 298.2,119.5 298.1,119.9 298.1,120.2 298.1,120.6 298.1,120.9 298.1,121.3 298.1,121.6 298.1,122 298.2,122.3 298.2,122.7 298.2,123 298.2,123.4 298.2,123.7 298.2,124.1 298.2,124.4 298.2,124.8 298.2,125.1 298.2,125.5 298.2,125.8 298.2,126.2 298.2,126.5 298.2,126.9 298.2,127.2 298.2,127.6 298.2,127.9 298.2,128.3 298.2,128.6 298.2,129 298.2,129.3 298.2,129.7 298.2,130 298.2,130.4 298.2,130.7 298.2,131.1 298.2,131.4 298.2,131.8 298.2,132.1 298.2,132.5 298.2,132.8 298.2,133.2 298.2,133.5 298.2,133.9 298.2,134.2 298.2,134.6 298.2,134.9 298.2,135.3 298.2,135.6 298.2,136 298.2,136.3 298.2,136.7 298.2,137 298.2,137.4 298.2,137.7 298.2,138.1 298.2,138.4 298.3,138.8 298.3,139.1 298.3,139.5 298.3,139.8 298.3,140.2 298.3,140.5 298.3,140.9 298.3,141.2 298.3,141.6 298.3,141.9 298.3,142.3 298.3,142.6 298.3,143 298.3,143.3 298.3,143.7 298.3,144 298.3,144.4 298.3,144.7 298.3,145.1 298.3,145.4 298.3,145.8 298.3,146.1 298.3,146.5 298.3,146.8 298.3,147.2 298.3,147.5 298.3,147.9 298.3,148.2 298.3,148.6 298.3,148.9 298.3,149.3 298.3,149.6 298.3,150 298.4,150.3 298.4,150.7 298.4,151 298.4,151.4 298.4,151.7 298.4,152.1 298.4,152.4 298.4,152.8 298.4,153.1 298.4,153.5 298.4,153.8 298.4,154.2 298.4,154.5 298.4,154.9 298.5,155.2 298.6,155.6 298.7,155.9 298.8,156.3 299,156.6 299.1,157 299.2,157.3 299.3,157.7 299.4,158 299.6,158.4 299.7,158.7 299.9,159.1 300,159.4 300.2,159.8 300.4,160.1 300.7,160.5 301.1,160.8 301.6,161.2 302.4,161.5 304.2,161.9 308.6,162.2 319.5,162.6 326,162.9 315.4,163.3 309.1,163.6 306.2,164 304.7,164.3 303.9,164.7 303.6,165 303.7,165.4 304.5,165.7 306.3,166.1 306.6,166.4 305.1,166.8 303.6,167.1 302.7,167.5 302.2,167.8 302,168.2 302,168.5 302.3,168.9 302.9,169.2 304.3,169.6 307.7,169.9 315.8,170.3 355.4,170.6 342.2,171 332.3,171.3 326.8,171.7 323.5,172 321.1,172.4 319.3,172.7 317.9,173.1 316.7,173.4 315.7,173.8 314.9,174.1 314.1,174.5 313.4,174.8 312.8,175.2 312.2,175.5 311.6,175.9 311.2,176.2 310.7,176.6 310.3,176.9 309.9,177.3 309.5,177.6 309.1,178 308.8,178.3 308.4,178.7 308.1,179 307.8,179.4 307.5,179.7 307.2,180.1 306.9,180.4 306.6,180.8 306.4,181.1 306.1,181.5 305.9,181.8 305.6,182.2 305.3,182.5 305.1,182.9 304.8,183.2 304.6,183.6 304.3,183.9 304.1,184.3 303.8,184.6 303.5,185 303.2,185.3 302.9,185.7 302.5,186 301.9,186.4 301.1,186.7 301.2,187.1 301.4,187.4 301.6,187.8 302,188.1 302.6,188.5 303.8,188.8 306.2,189.2 312,189.5 322,189.9 319.9,190.2 312.2,190.6 307.6,190.9 305.3,191.3 304.2,191.6 303.6,192 303.4,192.3 303.4,192.7 303.7,193 304.2,193.4 305,193.7 306.3,194.1 308.6,194.4 312.7,194.8 321,195.1 340.4,195.5 384.9,195.8 429.4,196.2 381.1,196.5 348.9,196.9 333.8,197.2 325.9,197.6 321.3,197.9 318.2,198.3 316.1,198.6 314.4,199 313.2,199.3 312.1,199.7 311.2,200 310.5,200.4 309.8,200.7 309.3,201.1 308.8,201.4 308.3,201.8 307.9,202.1 307.5,202.5 307.2,202.8 306.9,203.2 306.6,203.5 306.4,203.9 306.2,204.2 306.1,204.6 306.1,204.9 306.2,205.3 306.6,205.6 307.3,206 308.9,206.3 312.3,206.7 319.9,207 340,207.4 370,207.7 362,208.1 337.5,208.4 323.3,208.8 315.9,209.1 311.8,209.5 309.2,209.8 307.6,210.2 306.4,210.5 305.6,210.9 305,211.2 304.5,211.6 304.2,211.9 304,212.3 303.9,212.6 304.1,213 304.8,213.3 306.5,213.7 311.5,214 317.5,214.4 313.4,214.7 308.2,215.1 305.4,215.4 304,215.8 303.3,216.1 302.9,216.5 302.7,216.8 302.8,217.2 303,217.5 303.4,217.9 304.3,218.2 306.1,218.6 309.8,218.9 318.9,219.3 337,219.6 346,220 330.5,220.3 320.1,220.7 314.6,221 311.5,221.4 309.5,221.7 308.2,222.1 307.3,222.4 306.6,222.8 306,223.1 305.5,223.5 305.1,223.8 304.8,224.2 304.5,224.5 304.2,224.9 304,225.2 303.8,225.6 303.6,225.9 303.4,226.3 303.2,226.6 303.1,227 303,227.3 302.9,227.7 302.8,228 302.7,228.4 302.7,228.7 302.8,229.1 303,229.4 303.2,229.8 304.7,230.1 307.9,230.5 315.7,230.8 329.3,231.2 330.6,231.5 319.4,231.9 312.5,232.2 308.8,232.6 306.7,232.9 305.4,233.3 304.5,233.6 303.8,234 303.3,234.3 302.9,234.7 302.5,235 302.2,235.4 301.9,235.7 301.5,236.1 301,236.4" stroke="#2a8a2a" stroke-width="1.1"/>
<path d="M298.5,23.3 298.6,23.7 298.6,24 298.6,24.4 298.6,24.7 298.7,25.1 298.7,25.4 298.7,25.8 298.7,26.1 298.8,26.5 298.8,26.8 298.8,27.2 298.8,27.5 298.9,27.9 298.9,28.2 298.9,28.6 298.9,28.9 299,29.3 299,29.6 299,30 299,30.3 299.1,30.7 299.1,31 299.1,31.4 299.2,31.7 299.2,32.1 299.2,32.4 299.3,32.8 299.3,33.1 299.3,33.5 299.4,33.8 299.4,34.2 299.4,34.5 299.5,34.9 299.5,35.2 299.6,35.6 299.6,35.9 299.7,36.3 299.8,36.6 299.9,37 300,37.3 300.1,37.7 300.3,38 300.7,38.4 301.3,38.7 302.1,39.1 303.3,39.4 305.1,39.8 307.1,40.1 307.4,40.5 305.8,40.8 304.2,41.2 303.3,41.5 302.8,41.9 302.5,42.2 302.4,42.6 302.4,42.9 302.4,43.3 302.5,43.6 302.6,44 302.8,44.3 302.9,44.7 303.1,45 303.2,45.4 303.3,45.7 303.4,46.1 303.6,46.4 303.9,46.8 304.4,47.1 305.1,47.5 306.5,47.8 309.3,48.2 315.9,48.5 329.1,48.9 329.1,49.2 318.8,49.6 312,49.9 308.6,50.3 306.8,50.6 305.8,51 305.1,51.3 304.8,51.7 304.5,52 304.4,52.4 304.3,52.7 304.3,53.1 304.3,53.4 304.5,53.8 304.7,54.1 305.3,54.5 306.5,54.8 308.9,55.2 310.1,55.5 308.3,55.9 307,56.2 307,56.6 308.4,56.9 309.4,57.3 307.8,57.6 306.2,58 305.4,58.3 304.9,58.7 304.7,59 304.5,59.4 304.5,59.7 304.4,60.1 304.4,60.4 304.3,60.8 304.3,61.1 304.2,61.5 304.2,61.8 304.2,62.2 304.2,62.5 304.2,62.9 304.2,63.2 304.1,63.6 304.1,63.9 304.1,64.3 304.1,64.6 304.1,65 304.1,65.3 304.1,65.7 304.1,66 304.1,66.4 304.1,66.7 304.1,67.1 304.1,67.4 304.1,67.8 304.1,68.1 304.1,68.5 304.1,68.8 304.1,69.2 304.1,69.5 304.1,69.9 304.1,70.2 304.1,70.6 304.1,70.9 304.1,71.3 304,71.6 304,72 304,72.3 304,72.7 304,73 304,73.4 304,73.7 304,74 304,74.4 304,74.7 304,75.1 304,75.4 304,75.8 304,76.1 304,76.5 304,76.8 304,77.2 304,77.5 304,77.9 304,78.2 304,78.6 304,78.9 304,79.3 304,79.6 304,80 304,80.3 304,80.7 304,81 304,81.4 304,81.7 304,82.1 304,82.4 304,82.8 304,83.1 304,83.5 304,83.8 304,84.2 304,84.5 304,84.9 304,85.2 304,85.6 304,85.9 304,86.3 304,86.6 304,87 304,87.3 304,87.7 304,88 303.9,88.4 303.8,88.7 303.6,89.1 303.5,89.4 303.4,89.8 303.3,90.1 303.1,90.5 303,90.8 302.9,91.2 302.8,91.5 302.6,91.9 302.5,92.2 302.4,92.6 302.3,92.9 302.1,93.3 302,93.6 301.9,94 301.8,94.3 301.7,94.7 301.5,95 302.4,95.4 302.7,95.7 303,96.1 303.2,96.4 303.3,96.8 303.5,97.1 303.6,97.5 303.8,97.8 304,98.2 304.2,98.5 304.5,98.9 304.7,99.2 305,99.6 305.2,99.9 305.5,100.3 305.7,100.6 306,101 306.3,101.3 306.5,101.7 306.8,102 307.2,102.4 307.5,102.7 307.8,103.1 308.2,103.4 308.6,103.8 309,104.1 309.5,104.5 310,104.8 310.5,105.2 311.1,105.5 311.8,105.9 312.6,106.2 313.6,106.6 314.7,106.9 316.2,107.3 318.3,107.6 321.4,108 326.8,108.3 338.1,108.7 354.5,109 330.5,109.4 319.5,109.7 313.1,110.1 309.6,110.4 307.6,110.8 306.3,111.1 305.5,111.5 304.8,111.8 304.3,112.2 303.9,112.5 303.6,112.9 303.3,113.2 303,113.6 302.8,113.9 302.5,114.3 302.2,114.6 301.9,115 301.6,115.3 301.3,115.7 300.9,116 300.6,116.4 300.3,116.7 299.6,117.1 299.5,117.4 299.4,117.8 299.3,118.1 299.1,118.5 299,118.8 298.9,119.2 298.7,119.5 298.6,119.9 298.5,120.2 298.4,120.6 298.3,120.9 298.1,121.3 298,121.6 297.9,122 297.9,122.3 297.9,122.7 297.9,123 297.9,123.4 297.9,123.7 297.9,124.1 298.4,124.4 298.9,124.8 299.3,125.1 299.6,125.5 299.9,125.8 300.2,126.2 300.6,126.5 300.9,126.9 301.2,127.2 301.5,127.6 301.8,127.9 302.1,128.3 302.4,128.6 302.7,129 303,129.3 303.3,129.7 303.6,130 304,130.4 304.3,130.7 304.7,131.1 305.1,131.4 305.5,131.8 306,132.1 306.5,132.5 307.1,132.8 307.7,133.2 308.5,133.5 309.5,133.9 311,134.2 313.3,134.6 317.9,134.9 323.5,135.3 313.5,135.6 309.9,136 308,136.3 306.9,136.7 306.3,137 306,137.4 305.7,137.7 305.6,138.1 305.5,138.4 305.5,138.8 305.4,139.1 305.2,139.5 305,139.8 304.9,140.2 304.7,140.5 304.6,140.9 304.3,141.2 304.1,141.6 303.2,141.9 298.4,142.3 298.4,142.6 298.4,143 298.4,143.3 298.4,143.7 298.5,144 298.5,144.4 298.5,144.7 298.5,145.1 298.5,145.4 298.5,145.8 298.5,146.1 298.5,146.5 298.6,146.8 298.6,147.2 298.6,147.5 298.6,147.9 298.6,148.2 298.6,148.6 298.6,148.9 298.7,149.3 298.7,149.6 298.7,150 298.7,150.3 298.7,150.7 298.7,151 298.7,151.4 298.8,151.7 298.8,152.1 298.8,152.4 298.8,152.8 298.8,153.1 298.8,153.5 298.8,153.8 298.9,154.2 298.9,154.5 298.9,154.9 298.9,155.2 298.9,155.6 298.9,155.9 299,156.3 299,156.6 299,157 299,157.3 299,157.7 299.1,158 299.1,158.4 299.1,158.7 299.1,159.1 299.2,159.4 299.2,159.8 299.2,160.1 299.3,160.5 299.4,160.8 299.5,161.2 299.6,161.5 299.6,161.9 299.7,162.2 299.8,162.6 300,162.9 300.1,163.3 300.2,163.6 300.4,164 300.6,164.3 300.9,164.7 301.2,165 301.7,165.4 302.4,165.7 303.5,166.1 305.6,166.4 309.9,166.8 320.4,167.1 338.6,167.5 332.6,167.8 317.1,168.2 309.6,168.5 306.5,168.9 305.3,169.2 305.4,169.6 307.2,169.9 312.7,170.3 321,170.6 345.3,171 334.3,171.3 328.1,171.7 324.4,172 321.8,172.4 319.9,172.7 318.4,173.1 317.2,173.4 316.1,173.8 315.2,174.1 314.4,174.5 313.7,174.8 313,175.2 312.4,175.5 311.9,175.9 311.4,176.2 310.9,176.6 310.5,176.9 310.1,177.3 309.7,177.6 309.4,178 309,178.3 308.7,178.7 308.4,179 308.1,179.4 307.8,179.7 307.5,180.1 307.3,180.4 307,180.8 306.8,181.1 306.6,181.5 306.4,181.8 306.2,182.2 306,182.5 306,182.9 305.9,183.2 306,183.6 306.4,183.9 307.2,184.3 309.2,184.6 314,185 325.4,185.3 331.2,185.7 321.1,186 312.5,186.4 307.2,186.7 305.1,187.1 304,187.4 303.4,187.8 303.1,188.1 303,188.5 303.2,188.8 303.9,189.2 305.4,189.5 309.2,189.9 316.9,190.2 316.9,190.6 310.8,190.9 306.8,191.3 304.7,191.6 303.6,192 303,192.3 302.7,192.7 302.4,193 302.3,193.4 302.2,193.7 302.1,194.1 302.1,194.4 302,194.8 302,195.1 302,195.5 302,195.8 302,196.2 302,196.5 302.1,196.9 302.1,197.2 302.1,197.6 302.1,197.9 302.2,198.3 302.2,198.6 302.2,199 302.3,199.3 302.3,199.7 302.4,200 302.4,200.4 302.5,200.7 302.5,201.1 302.6,201.4 302.6,201.8 302.7,202.1 303.2,202.5 303.5,202.8 303.8,203.2 304.1,203.5 304.4,203.9 304.7,204.2 305.1,204.6 305.6,204.9 306,205.3 306.5,205.6 307.3,206 308.5,206.3 310.5,206.7 314.2,207 321.8,207.4 339.9,207.7 371.4,208.1 359.7,208.4 335.7,208.8 321.1,209.1 313.6,209.5 309.6,209.8 307.3,210.2 306,210.5 305.4,210.9 305.4,211.2 306.3,211.6 309.5,211.9 316.9,212.3 318.5,212.6 312,213 307.1,213.3 304.5,213.7 303.1,214 302.2,214.4 301.6,214.7 301.2,215.1 300.8,215.4 300.6,215.8 300.4,216.1 300.2,216.5 300,216.8 299.8,217.2 299.7,217.5 299.5,217.9 299.4,218.2 299.3,218.6 299.2,218.9 299,219.3 298.9,219.6 298.8,220 298.8,220.3 298.8,220.7 298.7,221 298.7,221.4 298.7,221.7 298.7,222.1 298.6,222.4 298.6,222.8 298.6,223.1 298.6,223.5 298.6,223.8 298.5,224.2 298.5,224.5 298.5,224.9 298.5,225.2 298.5,225.6 298.5,225.9 298.4,226.3 298.4,226.6 298.4,227 298.4,227.3 298.4,227.7 298.4,228 298.3,228.4 298.3,228.7 298.3,229.1 298.3,229.4 298.3,229.8 298.3,230.1 298.3,230.5 298.3,230.8 298.2,231.2 298.2,231.5 298.2,231.9 298.2,232.2 298.2,232.6 298.2,232.9 298.2,233.3 298.2,233.6 298.1,234 298.1,234.3 298.1,234.7 298.1,235 298.1,235.4 298.1,235.7 298.1,236.1 298.1,236.4" stroke="#e8202a" stroke-width="1.0"/>
<path d="M299,23.3 299,23.7 299.1,24 299.1,24.4 299.1,24.7 299.1,25.1 299.2,25.4 299.2,25.8 299.2,26.1 299.3,26.5 299.3,26.8 299.3,27.2 299.4,27.5 299.4,27.9 299.4,28.2 299.4,28.6 299.5,28.9 299.5,29.3 299.5,29.6 299.6,30 299.6,30.3 299.6,30.7 299.7,31 299.7,31.4 299.7,31.7 299.7,32.1 299.8,32.4 299.8,32.8 299.8,33.1 299.9,33.5 299.9,33.8 299.9,34.2 300,34.5 300,34.9 300,35.2 300,35.6 300,35.9 300,36.3 300,36.6 300,37 300,37.3 300,37.7 300,38 300,38.4 300,38.7 300,39.1 300,39.4 300,39.8 300,40.1 300,40.5 300,40.8 300,41.2 300,41.5 300,41.9 300,42.2 300,42.6 300,42.9 300,43.3 300,43.6 300,44 300,44.3 300,44.7 300,45 300,45.4 300,45.7 300,46.1 300,46.4 300,46.8 300,47.1 300,47.5 300,47.8 300,48.2 300,48.5 300,48.9 300,49.2 300,49.6 300,49.9 300,50.3 300,50.6 300,51 300,51.3 300,51.7 300,52 300,52.4 300,52.7 300,53.1 300,53.4 300,53.8 300,54.1 300,54.5 300,54.8 300,55.2 300,55.5 300,55.9 300,56.2 300,56.6 300,56.9 300,57.3 300,57.6 300,58 300,58.3 300,58.7 300,59 300,59.4 300,59.7 300,60.1 300,60.4 300,60.8 300,61.1 300,61.5 300,61.8 300,62.2 300,62.5 300,62.9 300,63.2 300,63.6 300,63.9 300,64.3 300,64.6 300,65 299.9,65.3 299.9,65.7 299.9,66 299.9,66.4 299.9,66.7 299.9,67.1 299.9,67.4 299.9,67.8 299.9,68.1 299.9,68.5 299.9,68.8 299.9,69.2 299.9,69.5 299.9,69.9 299.9,70.2 299.9,70.6 299.9,70.9 299.9,71.3 299.9,71.6 299.9,72 299.9,72.3 299.9,72.7 299.9,73 299.9,73.4 299.9,73.7 299.9,74 299.9,74.4 299.9,74.7 299.9,75.1 299.8,75.4 299.8,75.8 299.8,76.1 299.8,76.5 299.8,76.8 299.8,77.2 299.8,77.5 299.8,77.9 299.8,78.2 299.8,78.6 299.8,78.9 299.8,79.3 299.8,79.6 299.8,80 299.8,80.3 299.8,80.7 299.8,81 299.8,81.4 299.8,81.7 299.8,82.1 299.8,82.4 299.8,82.8 299.8,83.1 299.8,83.5 299.8,83.8 299.8,84.2 299.8,84.5 299.8,84.9 299.8,85.2 299.7,85.6 299.7,85.9 299.7,86.3 299.7,86.6 299.7,87 299.7,87.3 299.7,87.7 299.7,88 299.7,88.4 299.7,88.7 299.7,89.1 299.7,89.4 299.7,89.8 299.7,90.1 299.7,90.5 299.7,90.8 299.7,91.2 299.7,91.5 299.7,91.9 299.7,92.2 299.7,92.6 299.7,92.9 299.7,93.3 299.7,93.6 299.6,94 299.6,94.3 299.6,94.7 299.6,95 299.6,95.4 299.6,95.7 299.6,96.1 299.6,96.4 299.6,96.8 299.6,97.1 299.6,97.5 299.6,97.8 299.6,98.2 299.6,98.5 299.8,98.9 299.9,99.2 300,99.6 300.1,99.9 300.2,100.3 300.3,100.6 300.4,101 300.5,101.3 300.5,101.7 300.6,102 300.7,102.4 300.8,102.7 300.8,103.1 300.9,103.4 301,103.8 301.1,104.1 301.2,104.5 301.4,104.8 301.5,105.2 301.6,105.5 301.8,105.9 302,106.2 302.3,106.6 302.6,106.9 303,107.3 303.7,107.6 304.9,108 307.7,108.3 311.5,108.7 304.7,109 302.5,109.4 301.2,109.7 300.6,110.1 300.2,110.4 300,110.8 299.9,111.1 299.8,111.5 299.7,111.8 299.7,112.2 299.6,112.5 299.5,112.9 299.4,113.2 299.3,113.6 299.2,113.9 299.2,114.3 299.1,114.6 299,115 299,115.3 298.9,115.7 298.8,116 298.8,116.4 298.7,116.7 298.6,117.1 298.6,117.4 298.5,117.8 298.4,118.1 298.4,118.5 298.3,118.8 298.2,119.2 298.2,119.5 298.1,119.9 298,120.2 298,120.6 297.9,120.9 297.8,121.3 297.8,121.6 297.7,122 297.7,122.3 297.7,122.7 297.7,123 297.7,123.4 297.7,123.7 297.8,124.1 297.9,124.4 298,124.8 298.4,125.1 298.8,125.5 299.1,125.8 299.3,126.2 299.6,126.5 299.8,126.9 300.1,127.2 300.3,127.6 300.5,127.9 300.8,128.3 301,128.6 301.2,129 301.4,129.3 301.7,129.7 301.9,130 302.1,130.4 302.4,130.7 302.7,131.1 303,131.4 303.3,131.8 303.6,132.1 304,132.5 304.4,132.8 304.9,133.2 305.6,133.5 306.4,133.9 307.6,134.2 309.4,134.6 311.5,134.9 303.2,135.3 302.3,135.6 301.8,136 301.6,136.3 301.5,136.7 301.5,137 301.5,137.4 301.6,137.7 301.6,138.1 301.4,138.4 301.2,138.8 301,139.1 300.8,139.5 300.6,139.8 300.4,140.2 300.3,140.5 300.1,140.9 299.9,141.2 299.7,141.6 299.6,141.9 299.5,142.3 299.5,142.6 299.5,143 299.4,143.3 299.4,143.7 299.4,144 299.4,144.4 299.4,144.7 299.3,145.1 299.3,145.4 299.3,145.8 299.3,146.1 299.3,146.5 299.2,146.8 299.2,147.2 299.2,147.5 299.2,147.9 299.2,148.2 299.1,148.6 299.1,148.9 299.1,149.3 299.1,149.6 299.1,150 299,150.3 299,150.7 299,151 299,151.4 299,151.7 298.9,152.1 298.9,152.4 298.9,152.8 298.9,153.1 298.9,153.5 298.8,153.8 298.8,154.2 298.8,154.5 298.8,154.9 298.8,155.2 298.8,155.6 298.7,155.9 298.7,156.3 298.7,156.6 298.7,157 298.7,157.3 298.6,157.7 298.6,158 298.6,158.4 298.6,158.7 298.6,159.1 298.5,159.4 298.5,159.8 298.5,160.1 298.5,160.5 298.6,160.8 298.6,161.2 298.6,161.5 298.6,161.9 298.6,162.2 298.7,162.6 298.7,162.9 298.7,163.3 298.7,163.6 298.7,164 298.8,164.3 298.8,164.7 298.8,165 298.8,165.4 298.8,165.7 298.9,166.1 298.9,166.4 298.9,166.8 298.9,167.1 298.9,167.5 299,167.8 299,168.2 299,168.5 299,168.9 299,169.2 299.1,169.6 299.1,169.9 299.1,170.3 299.1,170.6 299.1,171 299.2,171.3 299.2,171.7 299.2,172 299.2,172.4 299.2,172.7 299.3,173.1 299.3,173.4 299.3,173.8 299.3,174.1 299.4,174.5 299.4,174.8 299.4,175.2 299.4,175.5 299.4,175.9 299.5,176.2 299.5,176.6 299.5,176.9 299.5,177.3 299.5,177.6 299.6,178 299.6,178.3 299.6,178.7 299.6,179 299.7,179.4 299.7,179.7 299.7,180.1 299.7,180.4 299.7,180.8 299.8,181.1 299.8,181.5 299.8,181.8 299.9,182.2 299.9,182.5 299.9,182.9 300,183.2 300,183.6 300,183.9 300.1,184.3 300.1,184.6 300.2,185 300.3,185.3 300.5,185.7 300.6,186 300.8,186.4 301.1,186.7 301.5,187.1 301.6,187.4 301.4,187.8 300.9,188.1 300.4,188.5 300,188.8 299.7,189.2 299.5,189.5 299.3,189.9 299.2,190.2 299.2,190.6 299.2,190.9 299.1,191.3 299.1,191.6 299.1,192 299.1,192.3 299.1,192.7 299.1,193 299.1,193.4 299.1,193.7 299.1,194.1 299.1,194.4 299.1,194.8 299.1,195.1 299.1,195.5 299.1,195.8 299.1,196.2 299.1,196.5 299.1,196.9 299.2,197.2 299.2,197.6 299.3,197.9 299.3,198.3 299.4,198.6 299.6,199 299.9,199.3 300.1,199.7 300.2,200 300.1,200.4 299.8,200.7 299.6,201.1 299.4,201.4 299.3,201.8 299.2,202.1 299.2,202.5 299.1,202.8 299.1,203.2 299.1,203.5 299.1,203.9 299.1,204.2 299.1,204.6 299.1,204.9 299.1,205.3 299.1,205.6 299.1,206 299,206.3 299,206.7 299,207 299,207.4 299,207.7 299,208.1 299,208.4 299,208.8 299,209.1 299,209.5 299.1,209.8 299.1,210.2 299.1,210.5 299.1,210.9 299.1,211.2 299.1,211.6 299.1,211.9 299.1,212.3 299.2,212.6 299.2,213 299.3,213.3 299.4,213.7 299.5,214 299.7,214.4 299.9,214.7 300,215.1 299.8,215.4 299.6,215.8 299.4,216.1 299.3,216.5 299.2,216.8 299.2,217.2 299.1,217.5 299.1,217.9 299.1,218.2 299.1,218.6 299.1,218.9 299.1,219.3 299,219.6 299,220 299,220.3 299,220.7 299,221 299,221.4 299,221.7 299,222.1 299,222.4 299,222.8 299,223.1 299,223.5 299,223.8 299,224.2 299,224.5 299,224.9 299,225.2 299,225.6 299,225.9 299,226.3 299,226.6 299,227 299,227.3 299,227.7 299,228 299,228.4 299,228.7 299,229.1 299,229.4 299,229.8 299,230.1 299,230.5 299,230.8 299,231.2 299,231.5 299,231.9 299,232.2 299,232.6 299,232.9 299,233.3 299,233.6 299,234 299,234.3 299,234.7 299,235 299,235.4 299,235.7 299,236.1 299,236.4" stroke="#1414d0" stroke-width="1.1"/>
</g>
<rect x="297.5" y="23.3" width="107.3" height="213.3" fill="none" stroke="#555" stroke-width="1.2"/>
<path d="M297.5,236.6v-4.5M297.5,23.3v4.5M315.37,236.6v-2.5M315.37,23.3v2.5M333.24,236.6v-4.5M333.24,23.3v4.5M351.11,236.6v-2.5M351.11,23.3v2.5M368.98,236.6v-4.5M368.98,23.3v4.5M386.85,236.6v-2.5M386.85,23.3v2.5M404.72,236.6v-4.5M404.72,23.3v4.5M297.5,229.06h2.5M404.8,229.06h-2.5M297.5,213.98h4.5M404.8,213.98h-4.5M297.5,198.9h2.5M404.8,198.9h-2.5M297.5,183.82h4.5M404.8,183.82h-4.5M297.5,168.74h2.5M404.8,168.74h-2.5M297.5,153.66h4.5M404.8,153.66h-4.5M297.5,138.58h2.5M404.8,138.58h-2.5M297.5,123.5h4.5M404.8,123.5h-4.5M297.5,108.42h2.5M404.8,108.42h-2.5M297.5,93.34h4.5M404.8,93.34h-4.5M297.5,78.26h2.5M404.8,78.26h-2.5M297.5,63.18h4.5M404.8,63.18h-4.5M297.5,48.1h2.5M404.8,48.1h-2.5M297.5,33.02h4.5M404.8,33.02h-4.5" stroke="#333" stroke-width="1" fill="none"/>
<text x="297.5" y="252.2" text-anchor="middle" font-size="12.6">0</text>
<text x="333.24" y="252.2" text-anchor="middle" font-size="12.6">2</text>
<text x="368.98" y="252.2" text-anchor="middle" font-size="12.6">4</text>
<text x="404.72" y="252.2" text-anchor="middle" font-size="12.6">6</text>
<text x="355.4" y="268.7" text-anchor="middle" font-size="14.2">DOS (1/eV)</text>
<rect x="334.7" y="29.2" width="65.3" height="57.6" fill="#fff" stroke="#666" stroke-width="0.9"/>
<line x1="337.2" y1="38.5" x2="349.6" y2="38.5" stroke="#1414d0" stroke-width="1.3"/>
<text x="351.6" y="42.1" font-size="9.6">Si-p<tspan font-size="6.5" dy="2.4">z</tspan></text>
<line x1="337.2" y1="52.5" x2="349.6" y2="52.5" stroke="#e8202a" stroke-width="1.3"/>
<text x="351.6" y="56.1" font-size="9.6">C-p<tspan font-size="6.5" dy="2.4">z</tspan></text>
<line x1="337.2" y1="66.7" x2="349.6" y2="66.7" stroke="#18d8e8" stroke-width="1.3"/>
<text x="351.6" y="70.3" font-size="9.6">Si-(s+p<tspan font-size="6.5" dy="2.4">x</tspan><tspan dy="-2.4">+p</tspan><tspan font-size="6.5" dy="2.4">y</tspan><tspan dy="-2.4">)</tspan></text>
<line x1="337.2" y1="80.5" x2="349.6" y2="80.5" stroke="#2a8a2a" stroke-width="1.3"/>
<text x="351.6" y="84.1" font-size="9.6">C-(s+p<tspan font-size="6.5" dy="2.4">x</tspan><tspan dy="-2.4">+p</tspan><tspan font-size="6.5" dy="2.4">y</tspan><tspan dy="-2.4">)</tspan></text>
<path d="M512.8,29.51V210M536.6,30.24V210M556.8,30.85V210M603.8,30.71V210M627.5,29.98V210M651.3,29.24V210M676.6,28.47V210M490,55.2L578,57.7L682,54.7M490,82L578,84.5L682,81.5M490,108.7L578,111.2L682,108.2M490,135.2L578,137.7L682,134.7M490,161L578,163.5L682,160.5M490,187L578,189.5L682,186.5" stroke="#ececec" stroke-width="0.7" fill="none"/>
<path d="M518.75,222.88L605.48,201.05M619.27,230.3L514.15,213.12M545.3,227.25L630.95,205.1M640.15,224.6L536.1,207.75M571.85,231.62L656.42,209.15M661.02,218.9L558.05,202.38" stroke="#ececec" stroke-width="0.7" fill="none"/>
<path d="M492.2,218.5L580,197L681.9,213.2" stroke="#bbb" stroke-width="0.8" fill="none"/>
<path d="M578,31.5V200" stroke="#999" stroke-width="0.9" fill="none"/>
<path d="M491.8,70.2C491.8,70.2 495.13,75.23 497,77.5C498.87,79.77 503,83.8 503,83.8C503,83.8 504.67,80.08 505.5,78C506.33,75.92 507.17,73.97 508,71.3C508.83,68.63 509.8,65.05 510.5,62C511.2,58.95 511.62,56.07 512.2,53C512.78,49.93 513.37,44.77 514,43.6C514.63,42.43 515.4,44.93 516,46C516.6,47.07 516.83,47.45 517.6,50C518.37,52.55 520.6,61.3 520.6,61.3C520.6,61.3 521.75,56.88 522.3,55C522.85,53.12 523.12,51.33 523.9,50C524.68,48.67 525.98,47.75 527,47C528.02,46.25 528.43,45.92 530,45.5C531.57,45.08 534.57,44.42 536.4,44.5C538.23,44.58 539.57,45.58 541,46C542.43,46.42 541.83,48 545,47C548.17,46 556,40.85 560,40C564,39.15 566.83,41.6 569,41.9C571.17,42.2 571.6,41.4 573,41.8C574.4,42.2 575.92,42.68 577.4,44.3C578.88,45.92 580.25,49.1 581.9,51.5C583.55,53.9 587.3,58.7 587.3,58.7C587.3,58.7 590.52,52.68 592.6,49.7C594.68,46.72 597.73,42.78 599.8,40.8C601.87,38.82 603.18,38.58 605,37.8C606.82,37.02 609.03,36.3 610.7,36.1C612.37,35.9 613.47,36.13 615,36.6C616.53,37.07 617.55,37.88 619.9,38.9C622.25,39.92 626.68,41.63 629.1,42.7C631.52,43.77 632.58,44.58 634.4,45.3C636.22,46.02 637.43,46.3 640,47C642.57,47.7 647.72,49.83 649.8,49.5C651.88,49.17 651.6,45.95 652.5,45C653.4,44.05 654.2,43.22 655.2,43.8C656.2,44.38 657.63,46.25 658.5,48.5C659.37,50.75 659.65,54.38 660.4,57.3C661.15,60.22 662.1,63.32 663,66C663.9,68.68 664.8,71.07 665.8,73.4C666.8,75.73 667.92,78.02 669,80C670.08,81.98 672.3,85.3 672.3,85.3C672.3,85.3 674.38,82.02 676,79C677.62,75.98 682,67.2 682,67.2C682,67.2 682,69.5 682,69.5C682,69.5 677.67,77.92 676,81C674.33,84.08 672,88 672,88C672,88 677,87.67 665,88C653,88.33 624.28,90.28 600,90C575.72,89.72 519.3,86.3 519.3,86.3C519.3,86.3 516.18,89.27 514.3,90.1C512.42,90.93 510.08,91.4 508,91.3C505.92,91.2 503.57,90.55 501.8,89.5C500.03,88.45 498.97,87.62 497.4,85C495.83,82.38 492.4,73.8 492.4,73.8C492.4,73.8 491.8,70.2 491.8,70.2Z" fill="#14ece8" stroke="#10d8d8" stroke-width="0.4"/>
<path d="M519.4,86.4C519.4,86.4 524.27,76.48 526.7,72C529.13,67.52 531.78,63.25 534,59.5C536.22,55.75 538,52.62 540,49.5C542,46.38 544,43.12 546,40.8C548,38.48 549.87,36.83 552,35.6C554.13,34.37 556.8,33.53 558.8,33.4C560.8,33.27 562.38,33.95 564,34.8C565.62,35.65 567.08,36.63 568.5,38.5C569.92,40.37 571.08,43.17 572.5,46C573.92,48.83 575.67,52.33 577,55.5C578.33,58.67 579.42,61.42 580.5,65C581.58,68.58 582.58,74 583.5,77C584.42,80 585.13,81.62 586,83C586.87,84.38 587.78,85.47 588.7,85.3C589.62,85.13 590.4,84.07 591.5,82C592.6,79.93 594.13,75.02 595.3,72.9C596.47,70.78 597.52,69.37 598.5,69.3C599.48,69.23 600.37,70.72 601.2,72.5C602.03,74.28 602.7,77.75 603.5,80C604.3,82.25 605.18,84.63 606,86C606.82,87.37 607.48,87.78 608.4,88.2C609.32,88.62 610.3,88.95 611.5,88.5C612.7,88.05 614.35,87 615.6,85.5C616.85,84 617.82,81.68 619,79.5C620.18,77.32 621.28,75.28 622.7,72.4C624.12,69.52 625.95,65.27 627.5,62.2C629.05,59.13 630.5,56.53 632,54C633.5,51.47 635.25,48.9 636.5,47C637.75,45.1 638.43,43.52 639.5,42.6C640.57,41.68 641.65,41.18 642.9,41.5C644.15,41.82 645.82,43.25 647,44.5C648.18,45.75 649.1,47.33 650,49C650.9,50.67 651.32,52 652.4,54.5C653.48,57 655.17,60.65 656.5,64C657.83,67.35 659.07,72.02 660.4,74.6C661.73,77.18 663.17,78.17 664.5,79.5C665.83,80.83 667.1,81.55 668.4,82.6C669.7,83.65 672.3,85.8 672.3,85.8C672.3,85.8 669.98,86.83 668,87.2C666.02,87.57 663,88.05 660.4,88C657.8,87.95 654.63,86.65 652.4,86.9C650.17,87.15 648.4,88.15 647,89.5C645.6,90.85 644.95,93.25 644,95C643.05,96.75 642.22,97.83 641.3,100C640.38,102.17 639.38,105 638.5,108C637.62,111 637.07,114.08 636,118C634.93,121.92 632.1,131.5 632.1,131.5C632.1,131.5 629.1,121.8 629.1,121.8C629.1,121.8 624.5,135.2 624.5,135.2C624.5,135.2 610.6,95.5 610.6,95.5C610.6,95.5 597.6,130.5 597.6,130.5C597.6,130.5 588.2,99.8 588.2,99.8C588.2,99.8 576.4,136.3 576.4,136.3C576.4,136.3 562.5,104 562.5,104C562.5,104 553.7,133.5 553.7,133.5C553.7,133.5 548.4,114.7 548.4,114.7C548.4,114.7 540.8,134.5 540.8,134.5C540.8,134.5 539.63,125.58 539,122C538.37,118.42 538.12,116.9 537,113C535.88,109.1 534.5,102.43 532.3,98.6C530.1,94.77 525.95,92.03 523.8,90C521.65,87.97 519.4,86.4 519.4,86.4Z" fill="#ff1010" stroke="#f01010" stroke-width="0.4"/>
<path d="M503,183C503,183 508.15,191.92 509.9,195C511.65,198.08 512.15,199.92 513.5,201.5C514.85,203.08 516.67,204.58 518,204.5C519.33,204.42 520.53,202.58 521.5,201C522.47,199.42 524.05,196.83 523.8,195C523.55,193.17 522.13,191.5 520,190C517.87,188.5 513.53,187.08 511,186C508.47,184.92 506.13,184 504.8,183.5C503.47,183 503,183 503,183Z" fill="#ff8a00" stroke="#ff8a00" stroke-width="0.4"/>
<path d="M492.3,182C492.3,182 494.8,174 496,170C497.2,166 498.33,161.92 499.5,158C500.67,154.08 502,149.58 503,146.5C504,143.42 504.72,141.2 505.5,139.5C506.28,137.8 506.9,136.3 507.7,136.3C508.5,136.3 509.25,137.22 510.3,139.5C511.35,141.78 512.72,146.58 514,150C515.28,153.42 516.5,157 518,160C519.5,163 521.28,165.82 523,168C524.72,170.18 528.3,173.1 528.3,173.1C528.3,173.1 530.6,164.1 531.8,160C533,155.9 534.17,151.92 535.5,148.5C536.83,145.08 538.95,141.47 539.8,139.5C540.65,137.53 540.6,136.7 540.6,136.7C540.6,136.7 542,138.4 542.9,141C543.8,143.6 546,152.3 546,152.3C546,152.3 548.22,147.22 549.5,144C550.78,140.78 553.7,133 553.7,133C553.7,133 555.52,138.55 556.4,141C557.28,143.45 559,147.7 559,147.7C559,147.7 560.73,141.05 561.8,138C562.87,134.95 564.2,130.15 565.4,129.4C566.6,128.65 567.9,131.73 569,133.5C570.1,135.27 571.12,138.02 572,140C572.88,141.98 574.3,145.4 574.3,145.4C574.3,145.4 576.4,138 576.4,138C576.4,138 577.82,142.13 578.5,144C579.18,145.87 580.5,149.2 580.5,149.2C580.5,149.2 582.8,142.15 584,140C585.2,137.85 586.62,136.55 587.7,136.3C588.78,136.05 589.62,137.6 590.5,138.5C591.38,139.4 593,141.7 593,141.7C593,141.7 594.68,137.78 595.5,136C596.32,134.22 597.9,131 597.9,131C597.9,131 599.67,135.62 600.5,138C601.33,140.38 601.75,142.3 602.9,145.3C604.05,148.3 607.4,156 607.4,156C607.4,156 612,160 612,160C612,160 620.8,150.7 620.8,150.7C620.8,150.7 621.9,145.55 622.5,143C623.1,140.45 624.4,135.4 624.4,135.4C624.4,135.4 625.4,139.35 626,141C626.6,142.65 628,145.3 628,145.3C628,145.3 629.25,141.23 630,139C630.75,136.77 632.5,131.9 632.5,131.9C632.5,131.9 633.95,136.17 635,139C636.05,141.83 637.72,146.07 638.8,148.9C639.88,151.73 640.62,153.62 641.5,156C642.38,158.38 643.07,160.62 644.1,163.2C645.13,165.78 646.55,169.48 647.7,171.5C648.85,173.52 649.8,175.3 651,175.3C652.2,175.3 653.73,173.55 654.9,171.5C656.07,169.45 656.5,167.07 658,163C659.5,158.93 662.18,151.4 663.9,147.1C665.62,142.8 668.3,137.2 668.3,137.2C668.3,137.2 669.2,136.3 669.2,136.3C669.2,136.3 666.88,149.05 666,155C665.12,160.95 663.9,172 663.9,172C663.9,172 662.93,172.98 662.1,174.8C661.27,176.62 660.25,179.67 658.9,182.9C657.55,186.13 655.62,190.97 654,194.2C652.38,197.43 651.08,200.28 649.2,202.3C647.32,204.32 644.85,206.58 642.7,206.3C640.55,206.02 638.45,203.42 636.3,200.6C634.15,197.78 632.52,191.83 629.8,189.4C627.08,186.97 620,186 620,186C620,186 605,186 605,186C605,186 602.93,184.08 602.3,185C601.67,185.92 601.73,189.62 601.2,191.5C600.67,193.38 599.1,196.3 599.1,196.3C599.1,196.3 597.15,195.15 595.9,194.7C594.65,194.25 593.03,193.25 591.6,193.6C590.17,193.95 588.4,195.57 587.3,196.8C586.2,198.03 585.9,199.38 585,201C584.1,202.62 583.23,204.75 581.9,206.5C580.57,208.25 578.43,210.17 577,211.5C575.57,212.83 574.87,213.92 573.3,214.5C571.73,215.08 569.48,214.92 567.6,215C565.72,215.08 563.7,215.08 562,215C560.3,214.92 559.57,215.12 557.4,214.5C555.23,213.88 551.68,212.6 549,211.3C546.32,210 543.97,208.42 541.3,206.7C538.63,204.98 535.67,202.95 533,201C530.33,199.05 527.8,196.6 525.3,195C522.8,193.4 520.38,192.65 518,191.4C515.62,190.15 513.2,188.72 511,187.5C508.8,186.28 506.97,184.93 504.8,184.1C502.63,183.27 500.08,182.85 498,182.5C495.92,182.15 492.3,182 492.3,182Z" fill="#0c0cf6" stroke="#0c0cf0" stroke-width="0.4"/>
<path d="M571,216C571,216 572.3,215.25 573.3,214.5C574.3,213.75 575.57,212.83 577,211.5C578.43,210.17 580.57,208.25 581.9,206.5C583.23,204.75 584.1,202.62 585,201C585.9,199.38 586.2,198.03 587.3,196.8C588.4,195.57 590.17,193.95 591.6,193.6C593.03,193.25 594.65,194.25 595.9,194.7C597.15,195.15 599.1,196.3 599.1,196.3C599.1,196.3 600.67,193.38 601.2,191.5C601.73,189.62 601.75,187.42 602.3,185C602.85,182.58 603.88,179.5 604.5,177C605.12,174.5 605.37,173.2 606,170C606.63,166.8 607.47,161.3 608.3,157.8C609.13,154.3 609.95,151.38 611,149C612.05,146.62 613.52,144 614.6,143.5C615.68,143 616.6,144.5 617.5,146C618.4,147.5 619.15,148.17 620,152.5C620.85,156.83 621.6,167.25 622.6,172C623.6,176.75 624.8,178.1 626,181C627.2,183.9 628.63,186.82 629.8,189.4C630.97,191.98 633,196.5 633,196.5C633,196.5 633,199.5 633,199.5C633,199.5 629.53,199.88 628.2,199.8C626.87,199.72 626.08,199.32 625,199C623.92,198.68 623.15,198.62 621.7,197.9C620.25,197.18 617.92,195.33 616.3,194.7C614.68,194.07 613.25,193.57 612,194.1C610.75,194.63 610.05,196.37 608.8,197.9C607.55,199.43 605.77,202.05 604.5,203.3C603.23,204.55 602.28,205.32 601.2,205.4C600.12,205.48 599.17,205.05 598,203.8C596.83,202.55 595.27,199.33 594.2,197.9C593.13,196.47 592.58,194.85 591.6,195.2C590.62,195.55 589.73,197.93 588.3,200C586.87,202.07 585.15,205.1 583,207.6C580.85,210.1 577.07,213.52 575.4,215C573.73,216.48 573,216.5 573,216.5C573,216.5 571,216 571,216Z" fill="#ff8a00" stroke="#ff8a00" stroke-width="0.4"/>
<path d="M669.2,136.3C669.2,136.3 671.1,138.9 672,141C672.9,143.1 673.77,146.23 674.6,148.9C675.43,151.57 676.25,154.32 677,157C677.75,159.68 678.6,162.5 679.1,165C679.6,167.5 679.6,170.07 680,172C680.4,173.93 681.5,176.6 681.5,176.6C681.5,176.6 681.5,178.2 681.5,178.2C681.5,178.2 677.42,176.65 675,176.5C672.58,176.35 669.68,175.43 667,177.3C664.32,179.17 661.07,184.88 658.9,187.7C656.73,190.52 654,194.2 654,194.2C654,194.2 657.55,186.13 658.9,182.9C660.25,179.67 661.27,176.62 662.1,174.8C662.93,172.98 663.17,175.3 663.9,172C664.63,168.7 665.62,160.95 666.5,155C667.38,149.05 669.2,136.3 669.2,136.3Z" fill="#ff8a00" stroke="#ff8a00" stroke-width="0.4"/>
<path d="M489.5,28.8L578,31.5L682,28.3" stroke="#666" stroke-width="1" fill="none"/>
<path d="M489.5,28.8L492.3,218.5" stroke="#444" stroke-width="1.1" fill="none"/>
<path d="M682,28.3V213.2" stroke="#999" stroke-width="1" fill="none"/>
<path d="M492.2,218.5L598.4,236L681.9,213.2" stroke="#333" stroke-width="1.1" fill="none"/>
<path d="M489.51,29.2h-3M489.9,55.7h-2M490.29,82.2h-3M490.68,108.7h-2M491.07,135.2h-3M491.46,161.7h-2M491.85,188.2h-3" stroke="#333" stroke-width="1" fill="none"/>
<text x="485.6" y="33.8" text-anchor="end" font-size="13">2</text>
<text x="485.6" y="86.8" text-anchor="end" font-size="13">1</text>
<text x="485.6" y="139.8" text-anchor="end" font-size="13">0</text>
<text x="485.6" y="192.8" text-anchor="end" font-size="13">-1</text>
<path d="M492.2,218.5l-1,3M518.75,222.88l-1,3M545.3,227.25l-1,3M571.85,231.62l-1,3M598.4,236l-1,3M619.27,230.3l1,3M640.15,224.6l1,3M661.02,218.9l1,3" stroke="#333" stroke-width="0.9" fill="none"/>
<text transform="translate(483.5,230.5) rotate(9) skewX(-12)" text-anchor="middle" font-size="12.5">-1.0</text>
<text transform="translate(508,234.7) rotate(9) skewX(-12)" text-anchor="middle" font-size="12.5">-0.5</text>
<text transform="translate(533.5,238.3) rotate(9) skewX(-12)" text-anchor="middle" font-size="12.5">0.0</text>
<text transform="translate(558.5,241.8) rotate(9) skewX(-12)" text-anchor="middle" font-size="12.5">0.5</text>
<text transform="translate(584.5,246) rotate(9) skewX(-12)" text-anchor="middle" font-size="12.5">1.0</text>
<text transform="translate(506.5,249) rotate(9) skewX(-8)" font-size="12">k<tspan font-size="8.5">x</tspan> (1/&#197;)</text>
<text transform="translate(631,242.5) rotate(-15) skewX(3)" text-anchor="middle" font-size="12.5">-0.5</text>
<text transform="translate(655.5,235.5) rotate(-15) skewX(3)" text-anchor="middle" font-size="12.5">0.0</text>
<text transform="translate(675.5,229) rotate(-15) skewX(3)" text-anchor="middle" font-size="12.5">0.5</text>
<text transform="translate(640.5,254.5) rotate(-20) skewX(3)" font-size="11.6">k<tspan font-size="8.5" dy="2">y</tspan><tspan dy="-2"> (1/&#197;)</tspan></text>
<text transform="translate(471.4,126.1) rotate(-90) scale(1,0.71)" text-anchor="middle" font-size="21.3">Energy (eV)</text>
<text transform="translate(431.6,30) scale(1.14,1)" font-size="22">(b)</text>
</svg></body></html>
